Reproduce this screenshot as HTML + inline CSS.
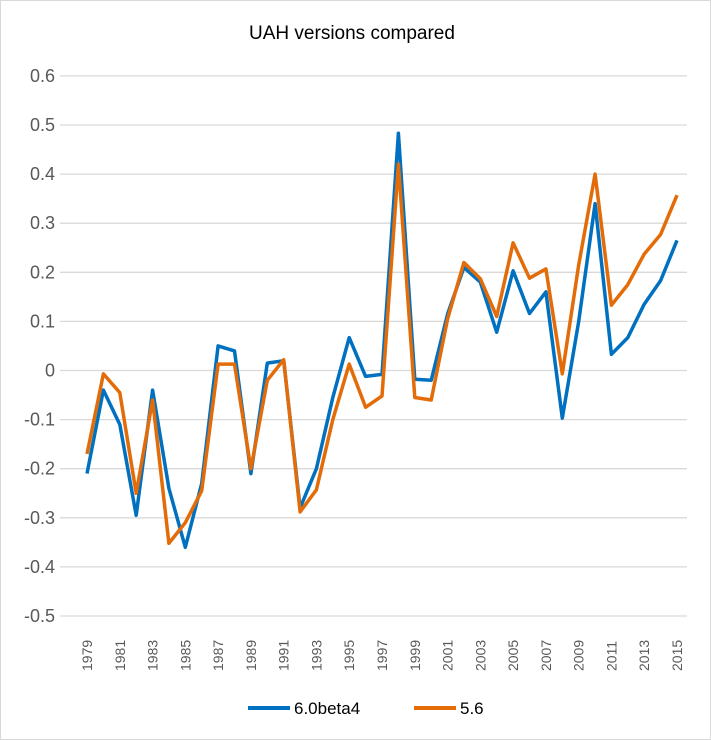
<!DOCTYPE html>
<html><head><meta charset="utf-8"><style>
html,body{margin:0;padding:0;background:#fff;}
svg{display:block;font-family:"Liberation Sans",Calibri,sans-serif;}
</style></head><body>
<svg id="chart" width="711" height="740" viewBox="0 0 711 740">
<rect x="0.5" y="0.5" width="710" height="739" fill="#fff" stroke="#d9d9d9"/>
<text x="352" y="39" text-anchor="middle" font-size="19" fill="#000">UAH versions compared</text>
<g id="grid"></g>
<g id="yticks"></g>
<g id="xticks"></g>
<g id="series"></g>
<g>
<line x1="248" y1="708" x2="290" y2="708" stroke="#0070c0" stroke-width="4"/>
<text x="294" y="714" font-size="17">6.0beta4</text>
<line x1="414" y1="708" x2="456" y2="708" stroke="#e36c09" stroke-width="4"/>
<text x="460" y="714" font-size="17">5.6</text>
</g>
</svg>
<script>
const years = [];
for (let y = 1979; y <= 2015; y++) years.push(y);
const v60 = [-0.21,-0.04,-0.11,-0.295,-0.04,-0.24,-0.36,-0.23,0.05,0.04,-0.21,0.015,0.02,-0.28,-0.2,-0.055,0.067,-0.012,-0.008,0.483,-0.018,-0.02,0.115,0.21,0.18,0.078,0.203,0.116,0.16,-0.097,0.1,0.34,0.033,0.067,0.135,0.183,0.265];
const v56 = [-0.17,-0.007,-0.045,-0.25,-0.06,-0.352,-0.31,-0.245,0.013,0.013,-0.2,-0.02,0.022,-0.288,-0.243,-0.1,0.013,-0.075,-0.052,0.42,-0.055,-0.06,0.105,0.22,0.187,0.11,0.26,0.188,0.207,-0.007,0.215,0.4,0.133,0.175,0.237,0.277,0.357];
const yTicks = [0.6,0.5,0.4,0.3,0.2,0.1,0,-0.1,-0.2,-0.3,-0.4,-0.5];
const yTickLabels = ["0.6","0.5","0.4","0.3","0.2","0.1","0","-0.1","-0.2","-0.3","-0.4","-0.5"];

const NS = "http://www.w3.org/2000/svg";
const yScale = v => 370.5 - v * 491;
const xScale = i => 87 + i * (590 / 36);
function mk(tag, attrs, parent) {
  const e = document.createElementNS(NS, tag);
  for (const k in attrs) e.setAttribute(k, attrs[k]);
  parent.appendChild(e);
  return e;
}
const grid = document.getElementById('grid');
const yt = document.getElementById('yticks');
yTicks.forEach((t, i) => {
  const y = yScale(t);
  const l = mk('line', {x1: 60, x2: 687, y1: y, y2: y, stroke: '#d9d9d9', 'stroke-width': 1.3}, grid);
  
  
  const tx = mk('text', {x: 55, y: y + 6, 'text-anchor': 'end', 'font-size': 18, fill: '#595959'}, yt);
  tx.textContent = yTickLabels[i];
  
  
});
const xt = document.getElementById('xticks');
years.forEach((yr, i) => {
  if (i % 2 !== 0) return;
  const x = xScale(i) + 5;
  const tx = mk('text', {x: x, y: 671, 'font-size': 14, fill: '#595959', transform: 'rotate(-90 ' + x + ' 671)'}, xt);
  tx.textContent = yr;
  
  
});
const sg = document.getElementById('series');
[[v60, '#0070c0', 'line-6-0beta4'], [v56, '#e36c09', 'line-5-6']].forEach(([vals, col, name]) => {
  const pts = vals.map((v, i) => xScale(i).toFixed(1) + ',' + yScale(v).toFixed(1)).join(' ');
  const p = mk('polyline', {points: pts, fill: 'none', stroke: col, 'stroke-width': 3.5, 'stroke-linejoin': 'round'}, sg);
  
  
});
</script>
</body></html>
